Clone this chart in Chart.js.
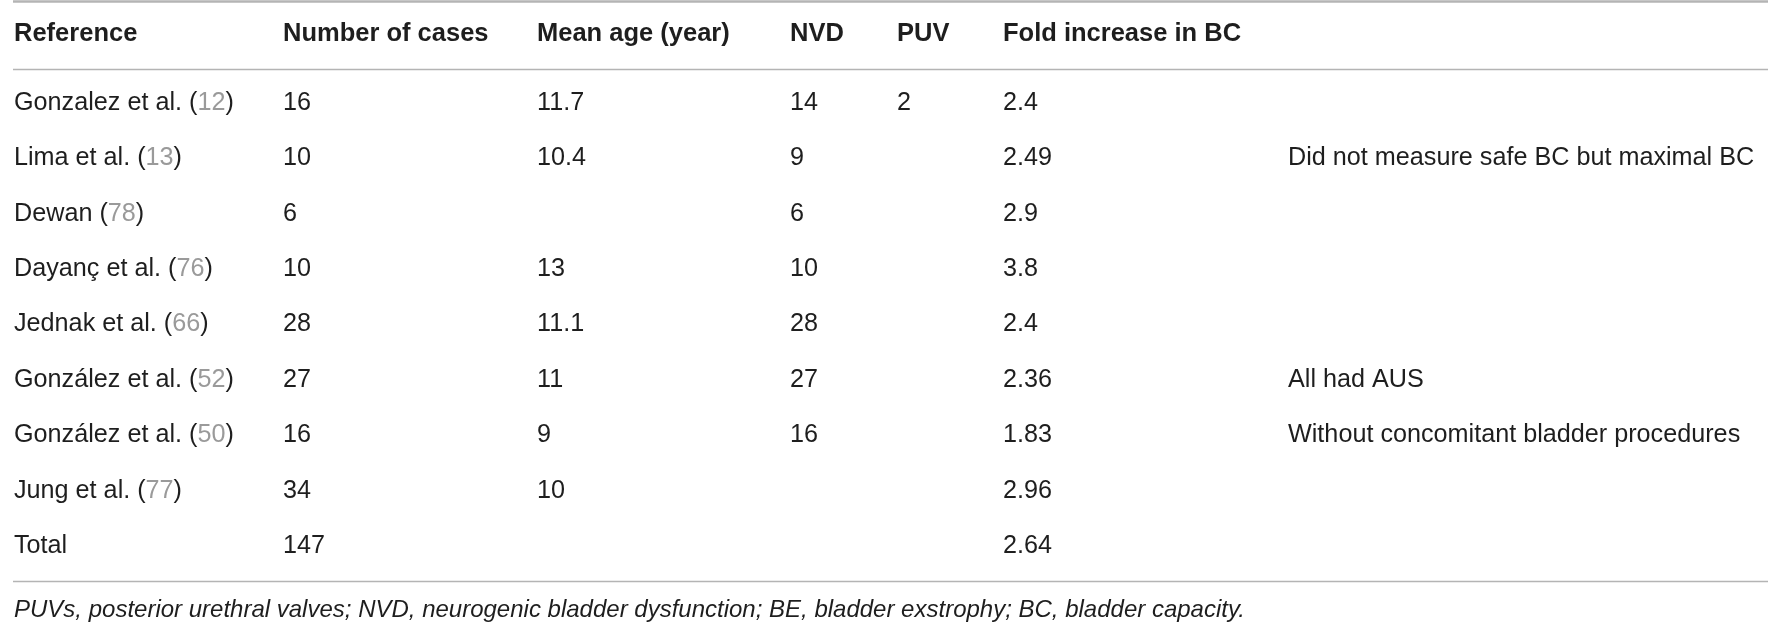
<!DOCTYPE html>
<html>
<head>
<meta charset="utf-8">
<script src="https://cdn.jsdelivr.net/npm/chart.js@4/dist/chart.umd.min.js"></script>
<style>
  html, body { margin: 0; padding: 0; background: #ffffff; }
  #wrap { width: 1778px; height: 628px; }
</style>
</head>
<body>
<div id="wrap"><canvas id="tabla"></canvas></div>
<script>
// Datos de la tabla
const headers = ['Reference', 'Number of cases', 'Mean age (year)', 'NVD', 'PUV', 'Fold increase in BC', ''];
const references = ['Gonzalez et al.', 'Lima et al.', 'Dewan', 'Dayanç et al.', 'Jednak et al.', 'González et al.', 'González et al.', 'Jung et al.', 'Total'];
const citations = ['12', '13', '78', '76', '66', '52', '50', '77', null];
const numberOfCases = [16, 10, 6, 10, 28, 27, 16, 34, 147];
const meanAge = [11.7, 10.4, null, 13, 11.1, 11, 9, 10, null];
const nvd = [14, 9, 6, 10, 28, 27, 16, null, null];
const puv = [2, null, null, null, null, null, null, null, null];
const foldIncrease = [2.4, 2.49, 2.9, 3.8, 2.4, 2.36, 1.83, 2.96, 2.64];
const notes = [null, 'Did not measure safe BC but maximal BC', null, null, null, 'All had AUS', 'Without concomitant bladder procedures', null, null];
const footnote = 'PUVs, posterior urethral valves; NVD, neurogenic bladder dysfunction; BE, bladder exstrophy; BC, bladder capacity.';

// Disposicion (no son datos)
const COL_X = [14, 283, 537, 790, 897, 1003, 1288];
const TABLE_LEFT = 13;
const TABLE_RIGHT = 1768;
const HEADER_ROW = -0.245;
const TOP_RULE = -0.96;
const HEADER_RULE = 0.26;
const BOTTOM_RULE = 9.515;
const FOOTNOTE_ROW = 10.16;
const FONT = '"Liberation Sans", Arial, sans-serif';
const TEXT_COLOR = '#1e1e1e';
const CITE_COLOR = '#9a9a9a';
const RULE_COLOR = '#b4b4b4';

const columns = [references, numberOfCases, meanAge, nvd, puv, foldIncrease, notes];

function puntosColumna(valores, col) {
    const puntos = [];
    valores.forEach((v, i) => {
        if (v !== null && v !== undefined) {
            puntos.push({ x: COL_X[col], y: i + 1, texto: String(v), fila: i });
        }
    });
    return puntos;
}

const datasets = columns.map((valores, col) => ({
    label: headers[col] || 'Notes',
    data: puntosColumna(valores, col),
    pointRadius: 0,
    pointHoverRadius: 0
}));

// Fila de encabezados como un dataset más
datasets.push({
    label: 'headers',
    data: headers.map((h, col) => ({ x: COL_X[col], y: HEADER_ROW, texto: h, fila: -1 })),
    pointRadius: 0,
    pointHoverRadius: 0,
    esEncabezado: true
});

const tablaPlugin = {
    id: 'tablaPlugin',
    beforeDatasetsDraw(chart) {
        const ctx = chart.ctx;
        const x = chart.scales.x;
        const y = chart.scales.y;
        const xi = x.getPixelForValue(TABLE_LEFT);
        const xf = x.getPixelForValue(TABLE_RIGHT);
        ctx.save();
        ctx.strokeStyle = RULE_COLOR;
        [[TOP_RULE, 2.5], [HEADER_RULE, 1.6], [BOTTOM_RULE, 1.6]].forEach(([v, w]) => {
            const py = Math.round(y.getPixelForValue(v)) + 0.5;
            ctx.lineWidth = w;
            ctx.beginPath();
            ctx.moveTo(xi, py);
            ctx.lineTo(xf, py);
            ctx.stroke();
        });
        ctx.restore();
    },
    afterDatasetsDraw(chart) {
        const ctx = chart.ctx;
        ctx.save();
        ctx.textBaseline = 'alphabetic';
        ctx.textAlign = 'left';
        chart.data.datasets.forEach((ds, di) => {
            const meta = chart.getDatasetMeta(di);
            meta.data.forEach((el, j) => {
                const punto = ds.data[j];
                if (!punto.texto) return;
                if (ds.esEncabezado) {
                    ctx.font = 'bold 25.5px ' + FONT;
                    ctx.fillStyle = TEXT_COLOR;
                    ctx.fillText(punto.texto, el.x, el.y);
                    return;
                }
                ctx.font = '25.2px ' + FONT;
                ctx.fillStyle = TEXT_COLOR;
                if (di === 0 && citations[punto.fila]) {
                    // nombre + (cita) con el numero en gris
                    let px = el.x;
                    const partes = [[punto.texto + ' (', TEXT_COLOR], [citations[punto.fila], CITE_COLOR], [')', TEXT_COLOR]];
                    partes.forEach(([t, c]) => {
                        ctx.fillStyle = c;
                        ctx.fillText(t, px, el.y);
                        px += ctx.measureText(t).width;
                    });
                } else {
                    ctx.fillText(punto.texto, el.x, el.y);
                }
            });
        });
        // Nota al pie
        ctx.font = 'italic 24px ' + FONT;
        ctx.fillStyle = TEXT_COLOR;
        ctx.fillText(footnote, chart.scales.x.getPixelForValue(COL_X[0]), chart.scales.y.getPixelForValue(FOOTNOTE_ROW));
        ctx.restore();
    }
};

new Chart(document.getElementById('tabla').getContext('2d'), {
    type: 'scatter',
    data: { datasets: datasets },
    options: {
        responsive: true,
        maintainAspectRatio: false,
        animation: false,
        events: [],
        layout: { padding: 0 },
        plugins: {
            legend: { display: false },
            tooltip: { enabled: false },
            title: { display: false }
        },
        scales: {
            x: { type: 'linear', min: 0, max: 1778, display: false },
            y: { type: 'linear', min: -0.986, max: 10.355, reverse: true, display: false }
        }
    },
    plugins: [tablaPlugin]
});
</script>
</body>
</html>
